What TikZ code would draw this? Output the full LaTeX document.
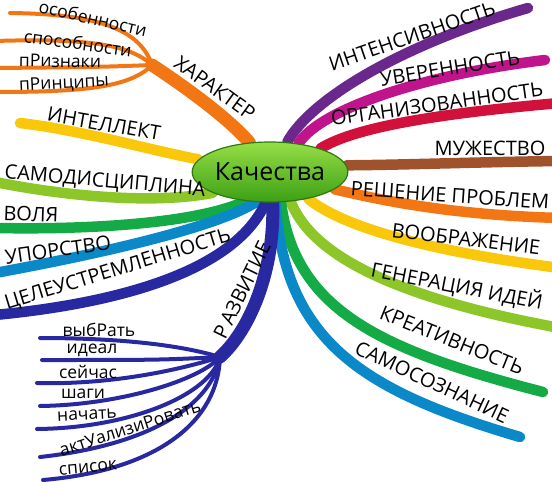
\documentclass[tikz,border=0pt]{standalone}
\usepackage{fontspec}
\setmainfont{Open Sans}
\usetikzlibrary{shapes.geometric, positioning}
\definecolor{MapPurple}{RGB}{107,40,140}
\definecolor{MapMagenta}{RGB}{192,20,140}
\definecolor{MapCrimson}{RGB}{210,16,60}
\definecolor{MapBrown}{RGB}{160,82,45}
\definecolor{MapOrange}{RGB}{242,118,20}
\definecolor{MapYellow}{RGB}{250,200,10}
\definecolor{MapLime}{RGB}{140,198,40}
\definecolor{MapGreen}{RGB}{20,170,70}
\definecolor{MapCyan}{RGB}{10,136,200}
\definecolor{MapNavy}{RGB}{40,40,160}
\definecolor{CoreTop}{RGB}{150,222,70}
\definecolor{CoreBottom}{RGB}{60,160,20}
\definecolor{CoreEdge}{RGB}{45,120,15}
\pgfdeclarelayer{back}
\pgfsetlayers{back,main}

\begin{document}
\begin{tikzpicture}[x=1pt, y=-1pt,
      font=\fontsize{20}{24}\selectfont,
      branch/.style={line width=10.5pt, line cap=round},
      stem/.style={line width=13pt, line cap=round},
      twig/.style={line width=4pt, line cap=round},
      word/.style={inner sep=0pt},
      leaf/.style={inner sep=0pt, font=\fontsize{17.5}{21}\selectfont},
      core/.style={ellipse, draw=CoreEdge, line width=1.2pt,
                   top color=CoreTop, bottom color=CoreBottom,
                   minimum width=135pt, minimum height=60pt, inner sep=0pt,
                   font=\fontsize{25}{28}\selectfont},
    ]
      \useasboundingbox (0,0) rectangle (552,482);

      \node[core] (q) at (270,172) {Качества};

      % hubs and free ends
      \coordinate (hr) at (152,65);
      \coordinate (hd) at (220,357);
      \coordinate (t-intens) at (528,8);
      \coordinate (t-uver) at (545,60);
      \coordinate (t-org) at (560,103);
      \coordinate (t-muzh) at (560,161);
      \coordinate (t-resh) at (560,218);
      \coordinate (t-voobr) at (560,268);
      \coordinate (t-gener) at (560,328);
      \coordinate (t-kreat) at (543,392);
      \coordinate (t-samos) at (520,437);
      \coordinate (t-intel) at (20,123);
      \coordinate (t-samod) at (-5,182);
      \coordinate (t-volya) at (-5,228);
      \coordinate (t-upor) at (-5,273);
      \coordinate (t-celeu) at (-5,315);
      \coordinate (t-osob) at (10,13);
      \coordinate (t-spos) at (-5,41);
      \coordinate (t-priz) at (-5,68);
      \coordinate (t-princ) at (-5,92);
      \coordinate (t-vybr) at (40,338);
      \coordinate (t-ideal) at (42,360);
      \coordinate (t-seich) at (37,383);
      \coordinate (t-shagi) at (40,406);
      \coordinate (t-nach) at (37,429);
      \coordinate (t-aktu) at (40,457);
      \coordinate (t-spis) at (43,480);

      \begin{pgfonlayer}{back}
        % right side
        \draw[branch, MapPurple] (q.60) .. controls (310,100) and (400,45) .. (t-intens);
        \draw[branch, MapMagenta] (q.45) .. controls (320,110) and (420,75) .. (t-uver);
        \draw[branch, MapCrimson] (q.25) .. controls (350,130) and (420,115) .. (t-org);
        \draw[branch, MapBrown] (q.5) .. controls (400,165) and (480,162) .. (t-muzh);
        \draw[branch, MapOrange] (q.-15) .. controls (380,200) and (450,215) .. (t-resh);
        \draw[branch, MapYellow] (q.-35) .. controls (340,225) and (420,250) .. (t-voobr);
        \draw[branch, MapLime] (q.-55) .. controls (310,250) and (380,295) .. (t-gener);
        \draw[branch, MapGreen] (q.-70) .. controls (295,310) and (380,350) .. (t-kreat);
        \draw[branch, MapCyan] (q.-80) .. controls (285,340) and (360,390) .. (t-samos);
        % left side
        \draw[stem, MapOrange] (q.125) .. controls (230,120) and (190,90) .. (hr);
        \draw[branch, MapYellow] (q.170) .. controls (150,150) and (80,130) .. (t-intel);
        \draw[branch, MapLime] (q.200) .. controls (150,205) and (60,195) .. (t-samod);
        \draw[branch, MapGreen] (q.230) .. controls (200,222) and (100,230) .. (t-volya);
        \draw[branch, MapCyan] (q.245) .. controls (220,225) and (120,250) .. (t-upor);
        \draw[branch, MapNavy] (q.262) .. controls (240,260) and (150,300) .. (t-celeu);
        \draw[stem, MapNavy] (q.-85) .. controls (275,270) and (250,330) .. (hd);
        % twigs
        \draw[twig, MapOrange] (hr) .. controls (140,30) and (100,14) .. (t-osob);
        \draw[twig, MapOrange] (hr) .. controls (130,45) and (90,38) .. (t-spos);
        \draw[twig, MapOrange] (hr) .. controls (100,67) .. (t-priz);
        \draw[twig, MapOrange] (hr) .. controls (130,88) and (80,92) .. (t-princ);
        \draw[twig, MapNavy] (hd) .. controls (170,342) and (100,338) .. (t-vybr);
        \draw[twig, MapNavy] (hd) .. controls (160,360) .. (t-ideal);
        \draw[twig, MapNavy] (hd) .. controls (180,370) and (110,385) .. (t-seich);
        \draw[twig, MapNavy] (hd) .. controls (200,380) and (120,405) .. (t-shagi);
        \draw[twig, MapNavy] (hd) .. controls (210,395) and (130,428) .. (t-nach);
        \draw[twig, MapNavy] (hd) .. controls (212,405) and (150,445) .. (t-aktu);
        \draw[twig, MapNavy] (hd) .. controls (218,420) and (160,470) .. (t-spis);
      \end{pgfonlayer}

      \node[word, rotate=19] (intens) at (412,36) {ИНТЕНСИВНОСТЬ};
      \node[word, rotate=9] (uver) at (450,68) {УВЕРЕННОСТЬ};
      \node[word, rotate=8] (org) at (437,104) {ОРГАНИЗОВАННОСТЬ};
      \node[word] (muzh) at (490,148) {МУЖЕСТВО};
      \node[word, rotate=-4] (resh) at (450,195) {РЕШЕНИЕ ПРОБЛЕМ};
      \node[word, rotate=-7] (voobr) at (466,239) {ВООБРАЖЕНИЕ};
      \node[word, rotate=-11] (gener) at (457,286) {ГЕНЕРАЦИЯ ИДЕЙ};
      \node[word, rotate=-22] (kreat) at (452,340) {КРЕАТИВНОСТЬ};
      \node[word, rotate=-25] (samos) at (432,382) {САМОСОЗНАНИЕ};
      \node[word, rotate=-36] (harakt) at (215,88) {ХАРАКТЕР};
      \node[word, rotate=-10] (intel) at (104,124) {ИНТЕЛЛЕКТ};
      \node[word, rotate=-5] (samod) at (105,182) {САМОДИСЦИПЛИНА};
      \node[word, rotate=-2] (volya) at (31,214) {ВОЛЯ};
      \node[word, rotate=8] (upor) at (58,250) {УПОРСТВО};
      \node[word, rotate=17] (celeu) at (118,270) {ЦЕЛЕУСТРЕМЛЕННОСТЬ};
      \node[word, rotate=64] (razv) at (242,290) {Р\,АЗВИТИЕ};

      \node[leaf, rotate=-13] (osob) at (93,18) {особенности};
      \node[leaf, rotate=-8] (spos) at (78,43) {способности};
      \node[leaf, rotate=-1] (priz) at (60,61) {пРизнаки};
      \node[leaf, rotate=3] (princ) at (64,84) {пРинципы};
      \node[leaf] (vybr) at (99,330) {выбРать};
      \node[leaf] (ideal) at (92,350) {идеал};
      \node[leaf] (seich) at (88,372) {сейчас};
      \node[leaf] (shagi) at (83,394) {шаги};
      \node[leaf, rotate=3] (nach) at (87,415) {начать};
      \node[leaf, rotate=18] (aktu) at (130,428) {актУализиРовать};
      \node[leaf, rotate=5] (spis) at (88,468) {список};
    \end{tikzpicture}
\end{document}
